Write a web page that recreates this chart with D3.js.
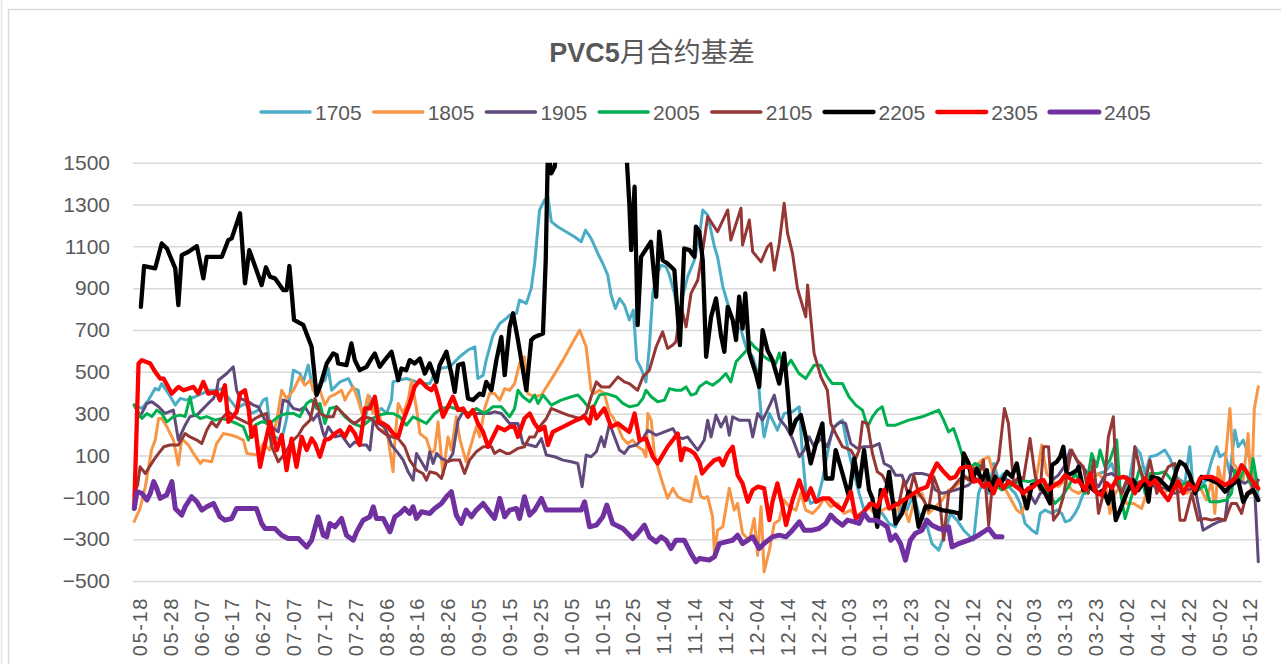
<!DOCTYPE html>
<html>
<head>
<meta charset="utf-8">
<script src="https://cdn.jsdelivr.net/npm/d3@7/dist/d3.min.js"></script>
<style>
  html, body { margin: 0; padding: 0; background: #fff; }
  svg { display: block; }
  text { font-family: "Liberation Sans", Arial, "Noto Sans CJK SC", sans-serif; fill: #595959; }
</style>
</head>
<body>
<div class="chart"></div>
<script>
// values: [days after 05-18, basis]
var d1705 = [[-1.6,341],[0.9,325],[3,365],[5.2,421],[6.3,413],[7.3,444],[9.5,396],[11.7,341],[13.3,373],[15.4,365],[18.1,381],[20.3,396],[23,412],[25.1,412],[26.8,420],[29.5,365],[31.6,325],[34.3,349],[36.5,301],[38.6,317],[40.2,365],[41.3,373],[42.4,237],[44,189],[46.2,174],[47.8,277],[50,508],[52.1,492],[53.2,452],[54.8,532],[56.4,412],[57.5,428],
  [60.2,460],[61.3,516],[62.4,412],[65.1,452],[67.8,468],[69.4,421],[71,412],[72.1,317],[73.2,269],[74.8,381],[75.9,301],[76.9,309],[78.6,325],[80.2,301],[81.8,365],[82.3,452],[84,460],[86.6,468],[88.3,460],[89.9,452],[92,444],[94.2,444],[95.8,492],[97.4,516],[100.7,524],[103.9,572],[106.6,604],[108.8,620],[109.8,468],[111.5,484],[112.5,556],[114.7,675],[116.9,731],[119,755],
  [120.1,771],[122.3,780],[123.3,843],[125.5,827],[127.1,899],[128.2,1018],[129.8,1274],[131.4,1321],[132.5,1340],[133.6,1218],[135.7,1194],[138.4,1170],[141.1,1146],[143.3,1122],[144.7,1178],[146.5,1138],[148.7,1066],[150.3,1018],[151.9,963],[153,867],[154.4,803],[155.7,851],[157.3,819],[158.9,748],[160.2,795],[161.3,556],[162.7,516],[164.3,452],[165.4,620],[166.5,875],[167.6,955],[169.2,1010],[170.8,1002],[171.9,963],[173.5,875],[175.1,763],[176.2,859],[177.8,955],[180,1034],[181.6,1146],
  [182.7,1274],[184.3,1250],[186.5,1098],[187.5,1050],[189.2,907],[190.8,827],[192.9,731],[195.1,700],[196.7,620],[198.9,572],[200.5,492],[201.6,301],[202.6,189],[204.3,301],[206.9,221],[209.1,301],[211.8,309],[214,333],[215,110],[216.1,-65],[217.7,-129],[219.9,-113],[221.5,-18],[223.1,110],[224.7,221],[226.4,253],[228,269],[229.6,142],[231.2,46],[233.4,-81],[235,-161],[236.6,-129],[238.8,-145],[240.9,-177],[243.1,-225],
  [245.2,-241],[247.3,-129],[248.9,-161],[251.1,-81],[252.7,-177],[254.9,-209],[257,-321],[259.2,-353],[260.8,-289],[263,-177],[265.1,-209],[267.3,-257],[268.9,-281],[270.5,-305],[272.1,-81],[273.7,-18],[275.4,-81],[277,62],[278.6,-18],[280.2,14],[282.4,-57],[284,-81],[285.6,-129],[287.2,-225],[289.4,-257],[291,-273],[292.1,-177],[293.7,-161],[295.9,-177],[297.5,-161],[299.1,-177],[300.2,-217],[301.8,-209],[303.4,-177],
  [304.5,-145],[306.1,-81],[307.7,-18],[309.4,-2],[311,14],[313.1,22],[315.3,62],[317.4,-41],[319.6,-81],[321.2,-2],[322.8,142],[324.5,110],[326.1,14],[327.7,94],[329.9,102],[332.5,126],[334.2,86],[336.3,-2],[339,-33],[340.6,142],[341.7,-65],[343.9,-41],[346,-18],[347.7,78],[349.3,142],[350.3,94],[352,110],[353.6,14],[355.2,221],[356.3,142],[357.9,174],[359.5,110],[360.6,46],[361.7,-18],[362.8,-97]];

var d1805 = [[-1.6,-215],[0.3,-153],[2,-49],[4,126],[5.2,174],[6.3,277],[7.3,277],[9,237],[11.1,174],[12.7,54],[13.8,181],[16,150],[17.6,110],[19.8,62],[20.8,78],[23.5,70],[25.1,157],[27.3,205],[30,197],[31.6,189],[33.8,174],[34.9,110],[38.6,102],[40.2,157],[42.4,126],[44.6,269],[46.2,412],[47.8,373],[50,412],[52.1,476],[53.7,436],[55.4,460],[57,396],
  [58.6,412],[60.2,341],[61.8,381],[64,396],[65.6,412],[66.7,365],[67.8,396],[69.4,428],[71,365],[72.6,285],[74.2,389],[75.9,301],[76.9,357],[78.6,253],[80.7,181],[82.3,22],[82.9,174],[84,349],[85.6,301],[87.2,365],[88.3,460],[89.9,325],[91,205],[93.1,181],[94.7,110],[95.8,126],[96.9,261],[98.5,6],[100.1,189],[101.2,126],[102.8,285],[103.9,181],[106,70],[107.7,157],[109.3,237],[110.4,189],[112,325],[113.6,396],[115.2,396],[116.9,365],[118.5,420],
  [120.1,412],[121.7,444],[123.3,540],[124.9,572],[126,396],[128.2,381],[130.4,389],[134.1,476],[137.4,556],[140.1,628],[142.8,700],[144.9,620],[146.5,412],[147.6,396],[149.2,412],[150.8,396],[152.5,301],[153.5,285],[155.2,237],[156.8,181],[158.4,157],[160,174],[161.6,142],[163.3,126],[164.3,94],[164.9,301],[166,269],[167,110],[168.1,46],[169.7,-33],[171.3,-105],[173,-57],[174.6,-97],[176.7,-113],[178.9,-121],[180.5,-1],[182.1,-97],
  [183.2,-105],[184.3,-97],[185.9,-193],[186.5,-369],[187.5,-257],[189.2,-241],[191.3,-57],[192.9,-161],[194,-129],[195.6,-273],[197.8,-305],[199.4,-201],[200.5,-377],[201.6,-145],[202.6,-457],[204.3,-353],[205.9,-225],[207.5,-209],[209.1,-113],[210.7,-145],[212.9,-161],[214.5,-81],[216.1,-161],[218.3,-177],[220.4,-145],[222,-105],[224.2,-145],[226.4,-129],[228.5,-177],[230.7,-161],[232.3,-193],[234.5,-169],[236.6,-145],[238.8,-185],[240.9,-161],[243.1,-145],
  [245.2,-177],[247.3,-113],[249.5,-217],[251.6,-97],[253.8,-81],[255.9,-177],[258.1,-145],[260.3,-113],[262.4,-65],[264.6,-49],[266.7,-18],[268.9,-2],[271,46],[273.2,78],[275.4,94],[277.5,-18],[280,-40],[284.5,-161],[286.1,-177],[288.3,-81],[290.5,-41],[292.6,150],[294.2,14],[295.9,-18],[298,-49],[300.2,-18],[302.3,-65],[304.5,-81],
  [306.7,-60],[308.8,-10],[311,14],[313.1,-25],[314.7,-177],[316.4,-81],[318,-49],[320.1,-129],[322.3,-129],[325,-153],[327.2,-49],[329.3,-33],[332,-81],[334.2,-57],[336.9,-18],[339.6,-81],[341.7,-57],[344.4,-65],[346,-113],[347.7,-18],[348.7,-177],[349.8,46],[351.4,-49],[353.6,325],[354.7,62],[356.3,30],[357.9,-18],[359.5,205],[360.6,-81],[361.5,325],[362.8,429]];

var d1905 = [[-1.6,341],[0.3,286],[2.5,349],[4.1,357],[6.3,333],[8.4,301],[11.1,317],[12.7,174],[14.9,245],[16.5,286],[18.7,293],[20.3,317],[22.4,349],[24.1,373],[25.1,412],[25.7,460],[28.4,492],[30.5,524],[31.6,412],[32.7,373],[35.4,357],[37,341],[38.6,333],[39.7,301],[41.3,253],[43,237],[45.1,213],[46.7,365],[48.3,357],[50,325],[52.1,317],[53.7,333],[56.4,269],[58,301],
  [59.7,205],[60.2,189],[61.3,237],[63.5,189],[65.6,197],[68.3,142],[69.9,165],[72.1,150],[73.7,150],[74.8,126],[75.9,269],[77.5,253],[79.6,237],[81.8,150],[84,110],[85.6,78],[87.2,22],[88.8,-18],[89.9,110],[91.5,70],[93.1,30],[94.2,118],[95.3,62],[96.4,110],[98,86],[100.1,70],[101.7,110],[103.4,269],[105,309],[107.1,301],[109.3,301],[111.5,301],[113.6,301],[115.2,309],[117.4,301],
  [120.1,253],[122.8,253],[124.4,157],[126.6,150],[128.7,142],[130.4,181],[132,102],[134.7,94],[137.4,78],[140.1,70],[142.2,62],[143.6,-49],[144.9,102],[146.5,94],[148.2,118],[149.8,189],[150.8,142],[152.5,253],[154.1,189],[155.7,126],[157.3,110],[158.9,142],[161.1,150],[163.3,181],[164.9,221],[167.6,197],[170.3,213],[173,229],[174.6,189],[176.2,181],[177.8,189],[179.4,157],[181.1,126],
  [183.2,174],[184.3,269],[185.4,189],[187,293],[188.6,237],[190.2,285],[191.3,197],[192.4,285],[194.5,269],[197.8,269],[198.9,189],[200.5,301],[202.1,269],[203.7,317],[205.9,389],[207.5,277],[209.7,237],[211.8,181],[214,94],[215.6,126],[217.2,189],[218.8,142],[221,181],[223.1,142],[225.3,237],[227.4,261],[229,253],[230.7,157],[232.8,134],[235,142],[237.7,142],[239.9,157],[241.5,62],[243.6,46],
  [245.2,6],[247.3,6],[248.4,-41],[250,6],[251.6,14],[253.8,14],[255.9,6],[258.1,-65],[260.3,-81],[262.4,-73],[264.6,-65],[266.2,-57],[268.9,-41],[271,-10],[273.2,-18],[275.4,-2],[277.5,-33],[279.7,-10],[281.8,-18],[284,-41],[286.1,-65],[288.3,-73],[290.5,-129],[292.1,-81],[293.7,-73],[295.9,-18],[298,6],[300.2,54],[301.8,126],[303.4,94],
  [304.5,62],[306.7,30],[308.8,-18],[311,-49],[313.1,6],[315.3,14],[317.4,-10],[320.1,-2],[322.8,-33],[326.1,-18],[329.3,-49],[332.5,-57],[335.8,-81],[339,-65],[342.3,-57],[344.9,-257],[347.7,-233],[349.8,-217],[352,-209],[354.1,46],[356.3,-18],[358.4,-33],[360.1,-18],[361.7,-81],[362.8,-408]];

var d2005 = [[-1.6,341],[0.9,277],[2.5,301],[4.1,286],[5.7,317],[7.3,301],[9,261],[11.1,286],[13.3,293],[14.9,286],[16.5,381],[17.6,301],[19.8,277],[21.9,286],[24.6,269],[26.8,277],[28.9,269],[31.6,253],[33.8,237],[35.4,174],[37.6,245],[39.7,261],[42.4,253],[45.1,286],[47.8,301],[50,301],[52.1,286],[54.3,349],[55.9,365],[57.5,325],
  [58.6,349],[60.2,253],[61.8,325],[64,333],[66.7,285],[69.4,253],[72.1,237],[74.8,269],[77.5,293],[80.2,301],[82.3,301],[84.5,285],[86.6,245],[88.8,285],[91,269],[93.1,253],[95.8,301],[98,325],[100.7,333],[103.9,317],[106.6,301],[109.3,325],[112,301],[114.7,333],[117.4,333],
  [120.1,285],[121.7,325],[122.8,412],[124.4,381],[126.6,357],[128.2,389],[129.3,349],[130.9,389],[133.6,341],[136.8,365],[140.1,381],[142.2,389],[143.8,365],[145.5,333],[147.1,325],[149.2,389],[151.4,396],[154.6,381],[156.8,349],[158.9,333],[161.6,341],[163.3,373],[164.3,412],[166,381],[168.1,357],[170.3,365],[171.9,420],[174,412],[175.7,412],[177.3,428],[178.9,389],[180.5,396],
  [181.6,428],[183.8,452],[185.9,436],[188.1,460],[190.2,492],[191.8,452],[193.5,548],[196.7,600],[198.3,640],[199.4,620],[201,600],[202.6,572],[204.3,556],[206.4,540],[207.5,590],[209.1,508],[211.3,556],[213.9,492],[216.1,468],[218.8,532],[221,532],[223.1,476],[224.7,444],[228,444],[230.1,381],[232.3,341],[234.5,317],[236.1,237],[237.7,285],[239.3,317],[240.9,333],[242.5,245],
  [245.2,245],[249.5,269],[253.8,285],[259.2,317],[260.8,269],[262.4,213],[264,229],[265.7,157],[267.3,78],[268.9,38],[271,62],[273.2,46],[275.4,-2],[277.5,-41],[279.7,-65],[281.8,-49],[284,-33],[286.1,-18],[288.3,-25],[290.5,-18],[292.6,-41],[294.8,-81],[296.9,-129],[299.1,-97],[301.3,-49],[303.4,14],
  [304.5,-18],[306.7,-81],[308.8,110],[310.4,46],[311.5,126],[313.1,46],[314.7,78],[316.9,174],[318,-65],[319.6,-201],[321.7,-97],[324.5,46],[326.1,-81],[327.7,14],[330.4,14],[332.5,22],[334.7,-18],[336.9,-49],[339,-33],[341.2,-18],[343.3,-65],[345.5,-41],[347.1,-121],[349.8,-121],[352.5,-113],[354.1,-81],[355.2,30],[356.8,-18],[358.4,46],[360.1,-33],[361.1,86],[362.8,-65]];

var d2105 = [[-1.6,-81],[-0.5,-41],[0.3,46],[2,14],[3,38],[4.7,78],[6.3,110],[8,142],[10,150],[12.7,150],[14.9,205],[16.5,189],[18.7,174],[20.3,157],[21.9,221],[23.5,261],[25.1,237],[26.8,277],[28.9,309],[31,285],[33.2,269],[35.4,253],[37.6,277],[39.7,293],[41.3,301],[43,142],[45.1,70],[47.3,110],[49.4,165],[51.6,197],[53.2,237],[55.4,269],[57,373],
  [58.6,301],[60.8,285],[62.9,285],[64,333],[66.1,301],[68.3,269],[69.9,253],[72.6,285],[75.3,277],[77.5,229],[79.6,205],[81.8,189],[84,181],[86.1,142],[87.7,78],[89.9,30],[92,14],[93.1,-18],[94.2,22],[96.4,14],[98,-10],[99.6,70],[101.7,78],[103.9,78],[105.5,14],[107.1,78],[109.3,118],[111.5,142],[114.2,142],[115.2,110],[116.9,126],[119,110],
  [120.1,110],[122.8,134],[124.9,142],[126.6,189],[128.2,189],[129.8,237],[132,277],[133.6,325],[136.3,309],[139,293],[142.8,277],[144.9,301],[146.5,381],[148.2,452],[149.8,428],[152.5,428],[155.2,476],[157.3,452],[158.9,444],[161.6,412],[163.3,476],[165.4,508],[167.6,620],[169.7,691],[171.3,612],[173,628],[174,644],[175.7,811],[177.3,715],[178.9,875],[181.1,939],
  [182.7,1082],[184.3,1242],[187.5,1170],[190.8,1274],[191.8,1130],[195.1,1282],[195.6,1106],[197.8,1226],[198.9,1074],[201.6,1026],[203.7,1098],[204.8,1114],[205.9,986],[207.5,1114],[209.1,1306],[210.2,1162],[211.8,1066],[213.4,899],[216.1,763],[216.7,915],[218.8,588],[221,476],[223.1,412],[224.2,253],[225.8,205],[228,142],[230.7,126],[232.3,86],[233.4,126],[234.5,261],[236.1,253],[237.7,110],[239.3,22],[240.9,6],[242.5,-41],
  [244.6,-121],[246.2,-137],[247.9,-18],[249.5,-97],[251.1,6],[252.7,-81],[254.3,-113],[255.9,-161],[257.6,-2],[259.2,-65],[260.8,-305],[262.4,-81],[264,-49],[265.7,-18],[267.3,6],[268.9,-18],[270.5,38],[272.1,6],[273.7,78],[275.4,-233],[277,30],[278.6,78],[280.5,325],[281.8,253],[283.5,-33],[285.1,-2],[286.7,-10],[288.8,181],[290.5,-2],[292.1,-65],[293.2,142],[294.8,142],[296.4,-209],[298,-177],[299.6,-97],[301.3,54],[302.3,126],[304,78],
  [306.1,46],[307.7,-81],[309.4,78],[311,-177],[312.6,-81],[314.2,189],[315.8,285],[316.9,-33],[318.5,-81],[320.1,-18],[321.8,-65],[322.8,142],[324.5,30],[326.1,-25],[327.7,78],[329.9,-81],[331.5,-18],[333.6,46],[335.8,62],[337.4,-209],[339,-209],[341.2,-81],[343.3,-209],[345.5,-201],[347.7,-209],[349.8,-201],[352,-209],[354.1,-129],[355.7,-129],[357.4,-177],[359,-81],[360.6,-65],[362.8,-18]];

var d2205 = [[0.55,811],[1.6,1006],[5.2,995],[7.3,1114],[9,1090],[11.7,995],[12.7,819],[13.8,1058],[16,1074],[18.7,1101],[20.8,947],[21.9,1050],[26.8,1050],[28.9,1130],[30,1138],[32.7,1258],[34.3,923],[35.7,1082],[38,987],[39.7,915],[41.1,1000],[42.4,955],[44,947],[46.7,891],[47.8,891],[48.7,1006],[50.2,748],[53.2,724],[55.9,620],[57.5,389],
  [58.6,429],[60.8,540],[62.9,588],[64,580],[64.5,540],[67.2,532],[68.8,636],[69.9,556],[71.5,508],[73.7,524],[75.3,564],[76.4,588],[78,524],[79.6,556],[81.8,596],[84,460],[85,516],[86.6,508],[87.7,556],[89.3,540],[91,564],[92.6,492],[94.2,540],[96.4,452],[97.4,532],[99.6,596],[101.2,492],[102.3,404],[103.4,532],[105,540],[106.6,373],[108.2,365],[110.4,396],[111.5,389],[112.5,452],[114.2,412],[115.8,556],[117.4,667],[118.5,484],[120.1,715],
  [121.2,780],[122.8,652],[125.5,412],[127.1,652],[128.2,667],[130.9,683],[131.8,1034],[132.5,1560],[133.6,1449],[134.7,1481],[136,1640],[140,1800],[145,1760],[150,1700],[155,1660],[157.9,1560],[158.9,1306],[159.5,1082],[160.6,1385],[161.6,723],[162.7,1050],[165.9,1122],[167.6,859],[168.6,1170],[169.7,1034],[171.3,1018],[173.5,987],[175.3,628],[176.7,1090],[178.4,1082],[180,1050],[180.5,1194],[181.6,1170],[182.7,1034],
  [183.8,572],[185.4,763],[187,851],[188.6,675],[189.7,596],[190.8,811],[192.4,748],[193.5,652],[194.5,859],[195.6,707],[196.5,875],[197.8,588],[199.9,492],[201,428],[202.1,699],[203.7,604],[205.3,556],[207.5,444],[209.1,588],[210.2,412],[211.3,205],[212.9,269],[214.5,293],[216.1,189],[217.7,62],[219.4,157],[221.5,253],[222.6,-10],[224.7,-10],[225.8,126],[228,14],[230.1,-97],[231.8,86],[233.4,-49],[235,126],[236.6,-65],[237.7,-105],[239.3,-241],[240.4,-65],[242,-81],[243.1,22],
  [244.1,-97],[245.2,-225],[247.3,-177],[249.5,-73],[251.1,-97],[252.7,-241],[254.9,-145],[257,-145],[260.3,-161],[263.5,-169],[265.7,-177],[266.2,-201],[267.3,110],[268.9,62],[270,-18],[271.6,38],[273.2,-18],[274.8,30],[275.9,-65],[277.5,-2],[279.1,-41],[281.3,22],[282.9,-2],[284.5,62],[286.1,-65],[287.8,-153],[289.4,-41],[291.5,-33],[293.7,-81],[295.3,-129],[295.9,54],[297.5,70],[298.6,94],[299.6,142],[300.7,6],[302.3,14],[304,30],
  [304.5,46],[306.1,-65],[307.7,-41],[309.4,-65],[311,-81],[312.6,-65],[314.2,-129],[315.3,-49],[316.6,-209],[318,-161],[320.1,-81],[322.3,-18],[323.9,-65],[326.1,-18],[327.2,-121],[328.2,-2],[330.4,-10],[332.5,-41],[334.2,-65],[336.3,30],[337.4,70],[339,54],[340.6,6],[342.3,-81],[344.4,-2],[346,-10],[347.7,-18],[349.8,-33],[352,-73],[354.1,-41],[356.3,-18],[357.9,-121],[359.5,-81],[361.1,-65],[362.8,-113]];

var d2305 = [[-1.6,-153],[-0.2,540],[0.9,556],[3.6,540],[5.2,500],[6.8,468],[7.9,468],[10.6,396],[12.7,428],[14.4,412],[17.6,428],[19.2,396],[20.8,452],[22.4,396],[25.1,404],[26.2,364],[27.8,436],[28.9,261],[31.6,309],[32.7,396],[34.3,412],[35.4,333],[36.5,189],[37.6,237],[39.2,46],[40.8,157],[42.4,261],[44.6,126],[46.2,198],[47.8,30],[49.4,181],[51,46],[52.7,189],[54.3,126],[55.9,181],[57,157],
  [58.6,94],[60.2,174],[61.8,181],[63.5,205],[65.1,221],[66.7,189],[68.3,237],[69.9,205],[71.5,150],[73.2,325],[74.8,325],[76.4,381],[77.5,261],[79.1,253],[80.7,237],[82.3,205],[84,189],[85.6,269],[87.7,349],[89.3,428],[91,460],[93.1,428],[94.7,412],[95.8,436],[96.9,381],[98.5,285],[100.1,333],[101.7,381],[103.4,317],[105,325],[106.6,285],[108.2,317],[109.8,253],[111.5,213],[113.1,142],[114.7,189],[116.3,237],[118.5,221],
  [120.1,237],[121.7,237],[122.8,189],[124.9,277],[126.6,301],[128.2,253],[129.8,221],[131.4,237],[132.5,150],[134.1,213],[137.4,237],[141.7,269],[144.4,285],[146,253],[147.1,333],[148.2,277],[150.8,325],[153,237],[155.2,253],[157.3,229],[158.9,213],[160.6,301],[162.2,174],[164.3,181],[166.5,94],[168.1,62],[169.7,102],[171.3,142],[173,174],[174.6,205],[175.7,78],[176.7,134],[178.4,126],[180,110],[181.6,70],[182.5,14],
  [184.3,46],[186.5,78],[188.1,86],[189.2,54],[190.8,110],[192.4,142],[194,6],[195.6,-33],[197.3,-121],[198.9,-65],[200.5,-49],[202.6,-57],[204.3,-209],[205.3,-121],[206.9,-33],[208.6,-145],[209.7,-233],[211.8,-113],[214,-18],[216.1,-113],[217.7,-57],[219.4,-121],[221.5,-105],[223.7,-105],[225.8,-137],[228,-161],[230.7,-73],[232.3,-201],[234.5,-177],[237.2,-129],[239.3,-145],[241.5,-65],[243.1,-153],
  [246.2,-129],[249.5,-97],[252.7,-65],[255.4,-49],[257,14],[258.6,62],[260.8,22],[262.9,-10],[264.6,-2],[266.2,38],[267.8,46],[269.4,46],[270.5,-25],[272.1,-18],[273.7,-49],[275.4,-33],[277,-81],[278.6,-18],[280.2,-57],[281.8,-25],[283.5,-41],[285.1,-57],[286.7,-81],[288.3,-57],[289.9,-49],[291.5,-25],[293.2,-18],[294.8,-65],[296.9,-41],[298.6,-25],[300.2,6],[301.8,-10],[303.4,-25],
  [304.5,-18],[306.7,-65],[308.3,14],[309.9,-73],[312,-89],[313.7,-33],[315.3,-57],[316.9,-10],[319.1,-2],[321.2,-18],[322.8,-81],[324.5,-33],[326.1,-10],[327.7,-41],[329.3,-18],[331.5,-73],[333.6,-113],[335.2,-65],[336.9,-25],[338.5,-81],[340.1,-33],[342.3,-65],[343.9,-10],[345.5,-2],[347.7,-2],[349.8,-18],[352,-41],[354.1,-25],[355.7,-2],[357.4,54],[359,22],[360.6,-18],[362.8,-57]];

var d2405 = [[-1.6,-153],[-0.7,-73],[0.9,-81],[2.5,-113],[3.6,-81],[4.7,-25],[5.7,-57],[6.8,-105],[8.9,-89],[10.6,-25],[11.7,-153],[13.8,-185],[14.9,-145],[17,-97],[18.7,-121],[20.3,-161],[21.9,-145],[24.1,-129],[26.2,-193],[27.8,-209],[30,-201],[31.6,-153],[34.3,-153],[38,-153],[39.7,-225],[40.8,-249],[44,-249],[46.2,-281],[48.3,-297],[51.6,-297],[54.3,-337],[55.9,-305],[58,-193],
  [59.7,-281],[60.8,-289],[61.8,-225],[63.5,-241],[65.6,-201],[67.2,-281],[69.4,-305],[70.5,-265],[72.6,-209],[74.8,-193],[75.9,-145],[76.9,-201],[79.1,-201],[81.3,-265],[82.9,-193],[84.5,-177],[86.1,-153],[87.7,-177],[88.8,-145],[89.9,-201],[91.5,-169],[94.2,-177],[95.8,-153],[98,-129],[99.6,-97],[101.2,-73],[102.8,-185],[104.4,-225],[106,-161],[107.7,-193],[109.3,-161],[111.5,-129],[113.1,-161],[115.2,-201],[116.9,-105],[118.5,-193],
  [120.1,-161],[122.3,-153],[123.3,-201],[124.9,-97],[126.6,-185],[128.2,-161],[130.4,-105],[132,-161],[135.2,-161],[139.5,-161],[143.3,-161],[144.4,-121],[146,-241],[148.2,-233],[150.3,-193],[151.6,-137],[153.5,-225],[156.8,-249],[160,-297],[161.6,-273],[163.8,-233],[165.4,-289],[167.6,-313],[169.2,-289],[170.8,-305],[172.4,-345],[174,-305],[176.7,-305],[178.9,-369],[180.5,-408],
  [181.6,-392],[184.8,-400],[186.5,-384],[188.1,-321],[190.2,-313],[192.4,-305],[194,-281],[195.6,-321],[198.9,-289],[201,-345],[202.6,-321],[205.3,-289],[207.5,-281],[209.7,-289],[211.8,-257],[214,-217],[215.6,-257],[218.3,-257],[220.4,-249],[222.6,-225],[224.2,-185],[225.8,-209],[228,-233],[229.6,-209],[231.8,-217],[233.4,-225],[235,-177],[236.6,-209],[238.8,-209],[240.9,-225],[242.5,-241],[243.6,-305],
  [245.2,-281],[246.8,-321],[248.4,-400],[250,-305],[251.6,-273],[253.8,-257],[255.4,-209],[257,-233],[259.2,-249],[261.3,-257],[262.4,-241],[263.5,-337],[265.7,-321],[268.9,-305],[272.1,-281],[275.4,-249],[277.5,-289],[279.7,-289]];

var seriesNames = ["1705", "1805", "1905", "2005", "2105", "2205", "2305", "2405"];
var seriesData = [d1705, d1805, d1905, d2005, d2105, d2205, d2305, d2405];
var seriesColors = ["#4BACC6", "#F79646", "#604A7B", "#00B050", "#953735", "#000000", "#FF0000", "#7030A0"];
var seriesWidths = [3, 3, 3, 3, 3, 4.3, 4.3, 5];

var yTicks = [-500, -300, -100, 100, 300, 500, 700, 900, 1100, 1300, 1500];
var xTickLabels = ["05-18","05-28","06-07","06-17","06-27","07-07","07-17","07-27","08-06","08-16","08-26",
  "09-05","09-15","09-25","10-05","10-15","10-25","11-04","11-14","11-24","12-04","12-14","12-24",
  "01-03","01-13","01-23","02-02","02-12","02-22","03-03","03-13","03-23","04-02","04-12","04-22","05-02","05-12"];

var svgWidth = 1281;
var svgHeight = 664;
var plot = { left: 133, right: 1262, top: 162.7, bottom: 581 };

var svg = d3.select(".chart")
  .append("svg")
  .attr("width", svgWidth)
  .attr("height", svgHeight);

// chart frame
svg.append("rect")
  .attr("x", 8.5).attr("y", 9.5)
  .attr("width", svgWidth).attr("height", svgHeight)
  .attr("fill", "none")
  .attr("stroke", "#d9d9d9")
  .attr("stroke-width", 1.5);
svg.append("line")
  .attr("x1", 1.5).attr("x2", 1.5).attr("y1", 0).attr("y2", svgHeight)
  .attr("stroke", "#e6e6e6").attr("stroke-width", 1.5);

var start = Date.UTC(2023, 4, 18);
function dayToDate(d) { return new Date(start + d * 864e5); }

var xScale = d3.scaleUtc()
  .domain([new Date(Date.UTC(2023, 4, 16)), new Date(Date.UTC(2024, 4, 16))])
  .range([plot.left, plot.right]);

var yScale = d3.scaleLinear()
  .domain([-500, 1500])
  .range([plot.bottom, plot.top]);

// tick label strings -> dates (year rolls over when the month goes back)
var year = 2023, prevMonth = 0;
var xTickDates = xTickLabels.map(function(s) {
  var m = +s.slice(0, 2), d = +s.slice(3, 5);
  if (m < prevMonth) year++;
  prevMonth = m;
  return new Date(Date.UTC(year, m - 1, d));
});

// gridlines + y labels
var yAxis = d3.axisLeft(yScale)
  .tickValues(yTicks)
  .tickSizeInner(-(plot.right - plot.left))
  .tickSizeOuter(0)
  .tickPadding(23)
  .tickFormat(d3.format("d"));

svg.append("g")
  .attr("transform", `translate(${plot.left}, 0)`)
  .call(yAxis)
  .call(g => g.select(".domain").remove())
  .call(g => g.selectAll("line").attr("stroke", "#d9d9d9").attr("stroke-width", 1.5))
  .call(g => g.selectAll("text")
    .attr("fill", "#595959")
    .style("font-size", "21px")
    .style("font-family", "'Liberation Sans', Arial, sans-serif"));

// x labels
var xAxis = d3.axisBottom(xScale)
  .tickValues(xTickDates)
  .tickSize(0)
  .tickFormat((d, i) => xTickLabels[i]);

svg.append("g")
  .attr("transform", `translate(0, ${plot.bottom})`)
  .call(xAxis)
  .call(g => g.select(".domain").remove())
  .call(g => g.selectAll("text")
    .attr("fill", "#595959")
    .attr("transform", "rotate(-90)")
    .attr("text-anchor", "end")
    .attr("x", -16)
    .attr("y", 0)
    .attr("dy", "0.36em")
    .style("letter-spacing", "1.6px")
    .style("font-size", "20px")
    .style("font-family", "'Liberation Sans', Arial, sans-serif"));

// lines
svg.append("clipPath")
  .attr("id", "plotClip")
  .append("rect")
  .attr("x", plot.left - 4)
  .attr("y", plot.top)
  .attr("width", plot.right - plot.left + 8)
  .attr("height", plot.bottom - plot.top + 10);

var line = d3.line()
  .x(d => xScale(dayToDate(d[0])))
  .y(d => yScale(d[1]));

var linesGroup = svg.append("g").attr("clip-path", "url(#plotClip)");

seriesData.forEach(function(data, i) {
  linesGroup.append("path")
    .datum(data)
    .attr("fill", "none")
    .attr("stroke", seriesColors[i])
    .attr("stroke-width", seriesWidths[i])
    .attr("stroke-linejoin", "round")
    .attr("stroke-linecap", "round")
    .attr("d", line);
});

// title
var title = svg.append("text")
  .attr("x", 652)
  .attr("y", 62)
  .attr("text-anchor", "middle")
  .style("font-size", "27px")
  .style("font-family", "'Liberation Sans', 'Noto Sans CJK SC', sans-serif");
title.append("tspan").attr("font-weight", "bold").text("PVC5");
title.append("tspan").text("月合约基差");

// legend
var legend = svg.append("g");
seriesNames.forEach(function(name, i) {
  var x0 = 259 + i * 112.7;
  legend.append("line")
    .attr("x1", x0 + 2).attr("x2", x0 + 51)
    .attr("y1", 112).attr("y2", 112)
    .attr("stroke", seriesColors[i])
    .attr("stroke-width", Math.max(seriesWidths[i], 3.5))
    .attr("stroke-linecap", "round");
  legend.append("text")
    .attr("x", x0 + 56)
    .attr("y", 119.5)
    .style("font-size", "21px")
    .text(name);
});
</script>
</body>
</html>
